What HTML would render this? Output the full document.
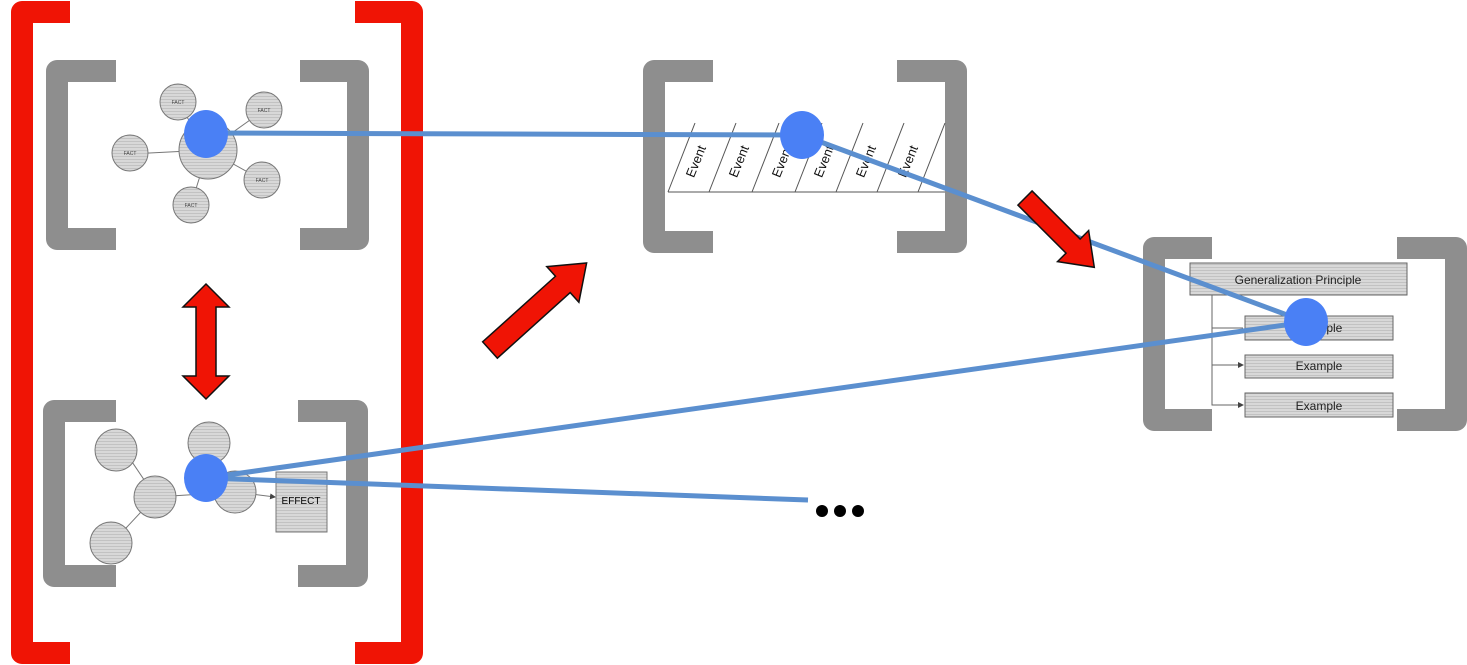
<!DOCTYPE html>
<html><head><style>body{margin:0;background:#fff}svg{display:block}</style></head><body>
<svg width="1467" height="665" viewBox="0 0 1467 665" xmlns="http://www.w3.org/2000/svg" font-family="Liberation Sans, sans-serif">
<defs>
<pattern id="st" width="4" height="3" patternUnits="userSpaceOnUse"><rect width="4" height="3" fill="#d8d8d8"/><rect width="4" height="1" fill="#c2c2c2"/></pattern>
<marker id="ah" markerWidth="6" markerHeight="6" refX="5" refY="3" orient="auto"><path d="M0,0L6,3L0,6z" fill="#444"/></marker>
</defs>
<!-- red brackets -->
<path d="M70,12 H22 V653 H70" fill="none" stroke="#f01405" stroke-width="22" stroke-linejoin="round"/>
<path d="M355,12 H412 V653 H355" fill="none" stroke="#f01405" stroke-width="22" stroke-linejoin="round"/>
<g fill="none" stroke="#8e8e8e" stroke-width="22" stroke-linejoin="round">
<path d="M116,71 H57 V239 H116"/><path d="M300,71 H358 V239 H300"/>
<path d="M116,411 H54 V576 H116"/><path d="M298,411 H357 V576 H298"/>
<path d="M713,71 H654 V242 H713"/><path d="M897,71 H956 V242 H897"/>
<path d="M1212,248 H1154 V420 H1212"/><path d="M1397,248 H1456 V420 H1397"/>
</g>
<!-- top-left facts -->
<g stroke="#777" stroke-width="1">
<line x1="208" y1="150" x2="178" y2="103"/><line x1="208" y1="150" x2="264" y2="110"/><line x1="208" y1="150" x2="130" y2="154"/><line x1="208" y1="150" x2="262" y2="180"/><line x1="208" y1="150" x2="191" y2="205"/>
<circle cx="208" cy="150" r="29" fill="url(#st)"/>
<circle cx="178" cy="102" r="18" fill="url(#st)"/><circle cx="264" cy="110" r="18" fill="url(#st)"/><circle cx="130" cy="153" r="18" fill="url(#st)"/><circle cx="262" cy="180" r="18" fill="url(#st)"/><circle cx="191" cy="205" r="18" fill="url(#st)"/>
</g>
<g font-size="5" fill="#444" text-anchor="middle"><text x="178" y="104">FACT</text><text x="264" y="112">FACT</text><text x="130" y="155">FACT</text><text x="262" y="182">FACT</text><text x="191" y="207">FACT</text></g>
<!-- bottom-left -->
<g stroke="#777" stroke-width="1">
<line x1="124" y1="450" x2="155" y2="496" marker-end="url(#ah)"/><line x1="112" y1="543" x2="155" y2="497"/><line x1="155" y1="497" x2="235" y2="492"/><line x1="235" y1="492" x2="275" y2="497" marker-end="url(#ah)"/>
<circle cx="116" cy="450" r="21" fill="url(#st)"/><circle cx="155" cy="497" r="21" fill="url(#st)"/><circle cx="111" cy="543" r="21" fill="url(#st)"/><circle cx="209" cy="443" r="21" fill="url(#st)"/><circle cx="235" cy="492" r="21" fill="url(#st)"/>
<rect x="276" y="472" width="51" height="60" fill="url(#st)"/>
</g>
<text x="301" y="504" font-size="10" text-anchor="middle">EFFECT</text>
<!-- events -->
<g stroke="#555" stroke-width="1" fill="none">
<line x1="668" y1="192" x2="945" y2="192"/>
<line x1="668" y1="192" x2="695" y2="123"/><line x1="709" y1="192" x2="736" y2="123"/><line x1="752" y1="192" x2="779" y2="123"/><line x1="795" y1="192" x2="822" y2="123"/><line x1="836" y1="192" x2="863" y2="123"/><line x1="877" y1="192" x2="904" y2="123"/><line x1="918" y1="192" x2="945" y2="123"/>
</g>
<g font-size="13" fill="#111" text-anchor="middle">
<text transform="translate(700,163) rotate(-68)">Event</text><text transform="translate(743,163) rotate(-68)">Event</text><text transform="translate(786,163) rotate(-68)">Event</text><text transform="translate(828,163) rotate(-68)">Event</text><text transform="translate(870,163) rotate(-68)">Event</text><text transform="translate(912,163) rotate(-68)">Event</text>
</g>
<!-- generalization -->
<g stroke="#666" stroke-width="1">
<rect x="1190" y="263" width="217" height="32" fill="url(#st)"/>
<rect x="1245" y="316" width="148" height="24" fill="url(#st)"/>
<rect x="1245" y="355" width="148" height="23" fill="url(#st)"/>
<rect x="1245" y="393" width="148" height="24" fill="url(#st)"/>
<path d="M1212,295 V405 H1243" fill="none" marker-end="url(#ah)"/>
<path d="M1212,365 H1243" fill="none" marker-end="url(#ah)"/>
<path d="M1212,328 H1243" fill="none"/>
</g>
<g font-size="12" fill="#222" text-anchor="middle"><text x="1298" y="284">Generalization Principle</text><text x="1319" y="332">Example</text><text x="1319" y="370">Example</text><text x="1319" y="410">Example</text></g>
<!-- blue lines -->
<g stroke="#5b8fcf" stroke-width="5" fill="none">
<line x1="206" y1="133" x2="802" y2="135"/><line x1="802" y1="135" x2="1306" y2="322"/><line x1="206" y1="478" x2="1306" y2="322"/><line x1="206" y1="478" x2="808" y2="500"/>
</g>
<g fill="#4a80f5"><ellipse cx="206" cy="134" rx="22" ry="24"/><ellipse cx="802" cy="135" rx="22" ry="24"/><ellipse cx="1306" cy="322" rx="22" ry="24"/><ellipse cx="206" cy="478" rx="22" ry="24"/></g>
<g fill="#000"><circle cx="822" cy="511" r="6"/><circle cx="840" cy="511" r="6"/><circle cx="858" cy="511" r="6"/></g>
<!-- red arrows -->
<g fill="#f01405" stroke="#111" stroke-width="1.5">
<path d="M206,284 L229,307 H216 V376 H229 L206,399 L183,376 H196 V307 H183 Z"/>
<path transform="translate(490,350) rotate(-42)" d="M0,-11 H98 V-24 L130,0 L98,24 V11 H0 Z"/>
<path transform="translate(1025,198) rotate(45)" d="M0,-10 H68 V-22 L98,0 L68,22 V10 H0 Z"/>
</g>
</svg>
</body></html>
